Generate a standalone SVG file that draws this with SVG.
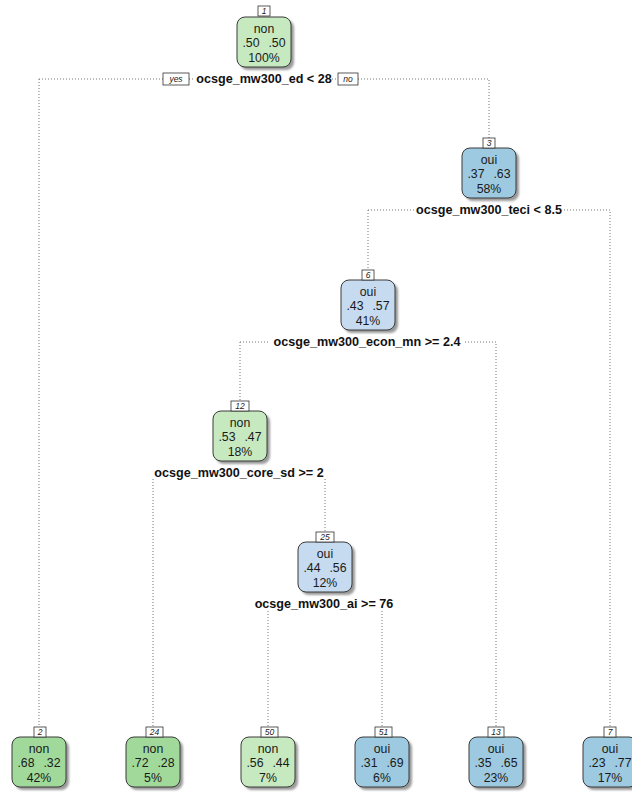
<svg xmlns="http://www.w3.org/2000/svg" width="632" height="792" viewBox="0 0 632 792">
<defs>
<style>
.box{stroke:#3a3a3a;stroke-width:1}
.g1{fill:#c7e9c0}.g2{fill:#a1d99b}.b1{fill:#c6dbef}.b2{fill:#9ecae1}
.sh{fill:#9a9a9a;filter:url(#blur)}
.t{font-family:"Liberation Sans",Arial,sans-serif;font-size:12.3px;fill:#1a1a1a;text-anchor:middle}
.sp{font-family:"Liberation Sans",Arial,sans-serif;font-size:12.6px;font-weight:bold;fill:#111;text-anchor:middle}
.n{font-family:"Liberation Sans",Arial,sans-serif;font-size:8.5px;font-style:italic;fill:#222;text-anchor:middle}
.nb{fill:#fff;stroke:#333;stroke-width:0.8}
.ln{fill:none;stroke:#777;stroke-width:1;stroke-dasharray:1,2}
</style>
<filter id="blur" x="-20%" y="-20%" width="140%" height="140%"><feGaussianBlur stdDeviation="1.2"/></filter>
</defs>
<rect width="632" height="792" fill="#fff"/>
<g id="connectors">
<path class="ln" d="M39,79H163M189,79H195M332,79H338M358,79H489V138"/>
<path class="ln" d="M39,79V727"/>
<path class="ln" d="M368,210H414M564,210H610V727M368,210V270"/>
<path class="ln" d="M240,342H270M465,342H496V727M240,342V401"/>
<path class="ln" d="M153,479V727M325,479V532"/>
<path class="ln" d="M268,611V727M382,611V727"/>
<rect class="nb" x="163" y="73" width="26" height="12"/>
<text class="n" x="176" y="82">yes</text>
<rect class="nb" x="338" y="73" width="20" height="12"/>
<text class="n" x="348" y="82">no</text>
</g>
<g id="node1">
<rect class="sh" x="240" y="20" width="54" height="50" rx="8"/>
<rect class="box g1" x="237" y="17" width="54" height="50" rx="8"/>
<rect class="nb" x="258" y="6" width="12" height="10"/>
<text class="n" x="264" y="14">1</text>
<text class="t" x="264" y="33">non</text>
<text class="t" x="251" y="47">.50</text><text class="t" x="277" y="47">.50</text>
<text class="t" x="264" y="62">100%</text>
<text class="sp" x="264" y="83">ocsge_mw300_ed &lt; 28</text>
</g>
<g id="node3">
<rect class="sh" x="465" y="151" width="54" height="50" rx="8"/>
<rect class="box b2" x="462" y="148" width="54" height="50" rx="8"/>
<rect class="nb" x="483" y="138" width="12" height="10"/>
<text class="n" x="489" y="146">3</text>
<text class="t" x="489" y="164">oui</text>
<text class="t" x="476" y="178">.37</text><text class="t" x="502" y="178">.63</text>
<text class="t" x="489" y="193">58%</text>
<text class="sp" x="489" y="214">ocsge_mw300_teci &lt; 8.5</text>
</g>
<g id="node6">
<rect class="sh" x="344" y="283" width="54" height="50" rx="8"/>
<rect class="box b1" x="341" y="280" width="54" height="50" rx="8"/>
<rect class="nb" x="362" y="270" width="12" height="10"/>
<text class="n" x="368" y="278">6</text>
<text class="t" x="368" y="296">oui</text>
<text class="t" x="355" y="310">.43</text><text class="t" x="381" y="310">.57</text>
<text class="t" x="368" y="325">41%</text>
<text class="sp" x="367" y="346">ocsge_mw300_econ_mn &gt;= 2.4</text>
</g>
<g id="node12">
<rect class="sh" x="216" y="414" width="54" height="50" rx="8"/>
<rect class="box g1" x="213" y="411" width="54" height="50" rx="8"/>
<rect class="nb" x="231" y="401" width="18" height="10"/>
<text class="n" x="240" y="409">12</text>
<text class="t" x="240" y="427">non</text>
<text class="t" x="227" y="441">.53</text><text class="t" x="253" y="441">.47</text>
<text class="t" x="240" y="456">18%</text>
<text class="sp" x="239" y="477">ocsge_mw300_core_sd &gt;= 2</text>
</g>
<g id="node25">
<rect class="sh" x="301" y="545" width="54" height="50" rx="8"/>
<rect class="box b1" x="298" y="542" width="54" height="50" rx="8"/>
<rect class="nb" x="316" y="532" width="18" height="10"/>
<text class="n" x="325" y="540">25</text>
<text class="t" x="325" y="558">oui</text>
<text class="t" x="312" y="572">.44</text><text class="t" x="338" y="572">.56</text>
<text class="t" x="325" y="587">12%</text>
<text class="sp" x="324" y="608">ocsge_mw300_ai &gt;= 76</text>
</g>
<g id="leaf2">
<rect class="sh" x="15" y="740" width="54" height="50" rx="8"/>
<rect class="box g2" x="12" y="737" width="54" height="50" rx="8"/>
<rect class="nb" x="34" y="727" width="12" height="10"/>
<text class="n" x="40" y="735">2</text>
<text class="t" x="39" y="753">non</text>
<text class="t" x="26" y="767">.68</text><text class="t" x="52" y="767">.32</text>
<text class="t" x="39" y="782">42%</text>
</g>
<g id="leaf24">
<rect class="sh" x="129" y="740" width="54" height="50" rx="8"/>
<rect class="box g2" x="126" y="737" width="54" height="50" rx="8"/>
<rect class="nb" x="146" y="727" width="17" height="10"/>
<text class="n" x="154.5" y="735">24</text>
<text class="t" x="153" y="753">non</text>
<text class="t" x="140" y="767">.72</text><text class="t" x="166" y="767">.28</text>
<text class="t" x="153" y="782">5%</text>
</g>
<g id="leaf50">
<rect class="sh" x="244" y="740" width="54" height="50" rx="8"/>
<rect class="box g1" x="241" y="737" width="54" height="50" rx="8"/>
<rect class="nb" x="261" y="727" width="17" height="10"/>
<text class="n" x="269.5" y="735">50</text>
<text class="t" x="268" y="753">non</text>
<text class="t" x="255" y="767">.56</text><text class="t" x="281" y="767">.44</text>
<text class="t" x="268" y="782">7%</text>
</g>
<g id="leaf51">
<rect class="sh" x="358" y="740" width="54" height="50" rx="8"/>
<rect class="box b2" x="355" y="737" width="54" height="50" rx="8"/>
<rect class="nb" x="375" y="727" width="17" height="10"/>
<text class="n" x="383.5" y="735">51</text>
<text class="t" x="382" y="753">oui</text>
<text class="t" x="369" y="767">.31</text><text class="t" x="395" y="767">.69</text>
<text class="t" x="382" y="782">6%</text>
</g>
<g id="leaf13">
<rect class="sh" x="472" y="740" width="54" height="50" rx="8"/>
<rect class="box b2" x="469" y="737" width="54" height="50" rx="8"/>
<rect class="nb" x="488" y="727" width="16" height="10"/>
<text class="n" x="496" y="735">13</text>
<text class="t" x="496" y="753">oui</text>
<text class="t" x="483" y="767">.35</text><text class="t" x="509" y="767">.65</text>
<text class="t" x="496" y="782">23%</text>
</g>
<g id="leaf7">
<rect class="sh" x="586" y="740" width="54" height="50" rx="8"/>
<rect class="box b2" x="583" y="737" width="54" height="50" rx="8"/>
<rect class="nb" x="604" y="727" width="12" height="10"/>
<text class="n" x="610" y="735">7</text>
<text class="t" x="610" y="753">oui</text>
<text class="t" x="597" y="767">.23</text><text class="t" x="623" y="767">.77</text>
<text class="t" x="610" y="782">17%</text>
</g>
</svg>
